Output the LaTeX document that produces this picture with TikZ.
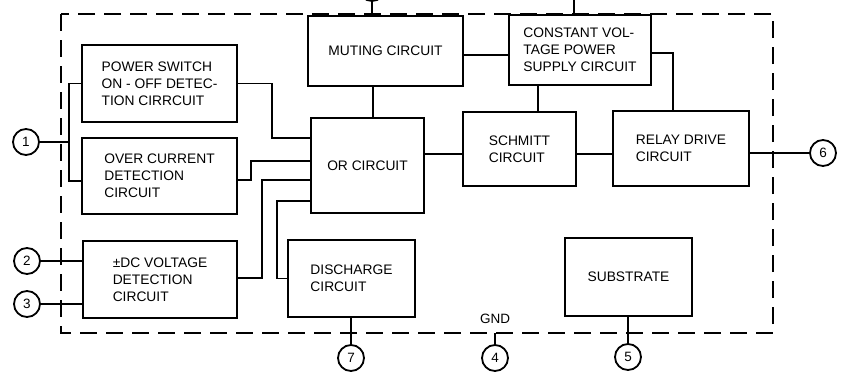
\documentclass[tikz,border=0pt]{standalone}
\usepackage{fontspec}
\setmainfont{Liberation Sans}
\begin{document}
\begin{tikzpicture}[x=1pt,y=-1pt,
  blk/.style={draw, line width=1.9pt, inner sep=0pt, align=left,
    font=\fontsize{13.8}{16.8}\selectfont},
  pinc/.style={draw, circle, line width=1.8pt, minimum size=26pt, inner sep=0pt,
    font=\fontsize{13.5}{15}\selectfont},
  wire/.style={line width=1.5pt},
  frame/.style={line width=1.8pt, dash pattern=on 17pt off 9pt}]
\useasboundingbox (0,0) rectangle (843,372);
\clip (0,0) rectangle (843,372);
\fill[white] (0,0) rectangle (843,372);

% dashed frame
\draw[frame] (61,14) rectangle (773,333);

% blocks
\node[blk, minimum width=155pt, minimum height=77pt] (pwr) at (159.5,83.5) {POWER SWITCH\\ON - OFF DETEC-\\TION CIRRCUIT};
\node[blk, minimum width=155pt, minimum height=76pt] (ovc) at (159.5,176) {OVER CURRENT\\DETECTION\\CIRCUIT};
\node[blk, minimum width=154pt, minimum height=77pt] (dcv) at (160,279.5) {±DC VOLTAGE\\DETECTION\\CIRCUIT};
\node[blk, minimum width=155pt, minimum height=70pt] (mut) at (385.5,51) {MUTING CIRCUIT};
\node[blk, minimum width=142pt, minimum height=70pt] (cvp) at (580,50) {CONSTANT VOL-\\TAGE POWER\\SUPPLY CIRCUIT};
\node[blk, minimum width=113pt, minimum height=95pt] (orc) at (367.5,165.5) {OR CIRCUIT};
\node[blk, minimum width=113pt, minimum height=74pt] (sch) at (519.5,149) {SCHMITT\\CIRCUIT};
\node[blk, minimum width=136pt, minimum height=75pt] (rly) at (681,148.5) {RELAY DRIVE\\CIRCUIT};
\node[blk, minimum width=127pt, minimum height=77pt] (dis) at (351.5,278.5) {DISCHARGE\\CIRCUIT};
\node[blk, minimum width=127pt, minimum height=78pt] (sub) at (628.5,277) {SUBSTRATE};

% pins
\node[pinc] (p1) at (26,142) {1};
\node[pinc] (p2) at (27,261) {2};
\node[pinc] (p3) at (27,304) {3};
\node[pinc] (p6) at (823,153) {6};
\node[pinc] (p7) at (351,358) {7};
\node[pinc] (p4) at (495,358) {4};
\node[pinc] (p5) at (628,357) {5};
\node[pinc] (pt) at (372,-12) {};
\node[font=\fontsize{13.5}{15}\selectfont] (gnd) at (495,319) {GND};

% coordinates
\coordinate (j1) at (69,142);
\coordinate (a1) at (272,138);
\coordinate (a2) at (251,161);
\coordinate (a3) at (262,180);
\coordinate (a4) at (277,201);
\coordinate (m1) at (480,55);
\coordinate (m2) at (373,100);
\coordinate (m3) at (538,100);
\coordinate (m4) at (673,53);
\coordinate (m5) at (440,154);
\coordinate (g) at (495,333);
\coordinate (t2) at (574,0);

% wires
\draw[wire] (p1) -- (j1);
\draw[wire] (pwr.west) -| (j1) |- ([yshift=-5pt]ovc.west);
\draw[wire] (p2) -- (dcv.west |- p2);
\draw[wire] (p3) -- (dcv.west |- p3);
\draw[wire] (pwr.east) -| (a1) -- (orc.west |- a1);
\draw[wire] ([yshift=-4pt]ovc.east) -| (a2) -- (orc.west |- a2);
\draw[wire] ([yshift=1.5pt]dcv.east) -| (a3) -- (orc.west |- a3);
\draw[wire] (dis.west) -| (a4) -- (orc.west |- a4);
\draw[wire] (mut.east |- m1) -- (cvp.west |- m1);
\draw[wire] (mut.south -| m2) -- (orc.north -| m2);
\draw[wire] (cvp.south -| m3) -- (sch.north -| m3);
\draw[wire] (cvp.east |- m4) -| (rly.north -| m4);
\draw[wire] (orc.east |- m5) -- (sch.west |- m5);
\draw[wire] (sch.east |- m5) -- (rly.west |- m5);
\draw[wire] (rly.east |- p6) -- (p6);
\draw[wire] (dis.south -| p7) -- (p7);
\draw[wire] (g) -- (p4);
\draw[wire] (sub.south -| p5) -- (p5);
\draw[wire] (mut.north -| pt) -- (pt);
\draw[wire] (cvp.north -| t2) -- (t2);
\end{tikzpicture}
\end{document}
